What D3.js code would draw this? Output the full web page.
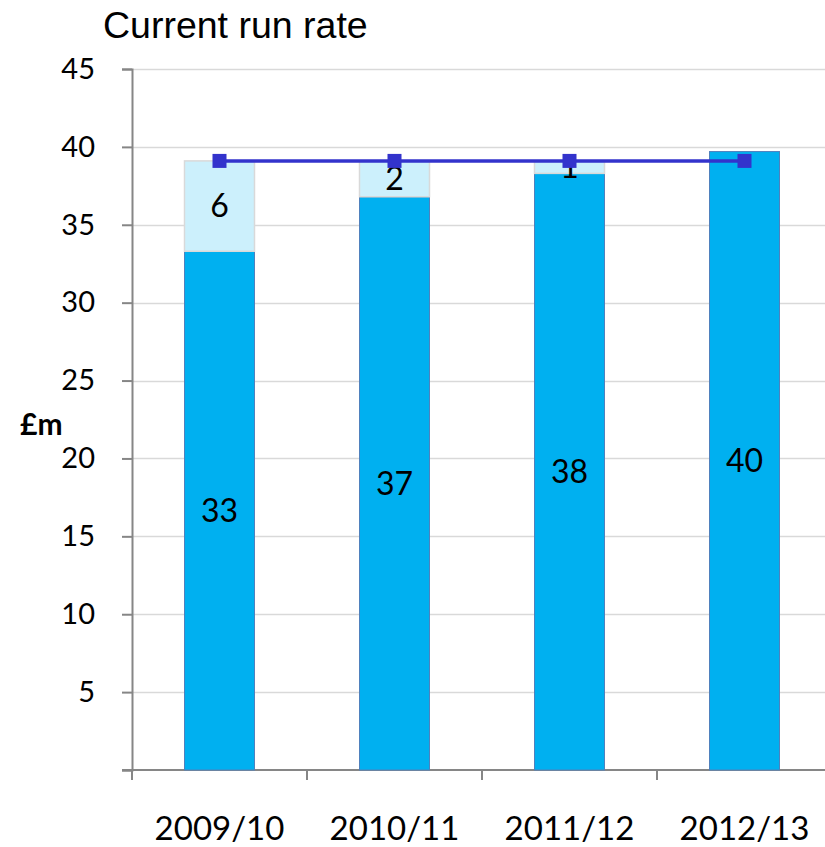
<!DOCTYPE html>
<html>
<head>
<meta charset="utf-8">
<script src="https://cdn.jsdelivr.net/npm/d3@7"></script>
<style>
  body { margin: 0; background: #fff; }
  svg { display: block; }
</style>
</head>
<body>
<div id="chart"></div>
<script>
const years = ["2009/10", "2010/11", "2011/12", "2012/13"];
const actual = [33.3, 36.8, 38.3, 39.7];
const gap = [5.8, 2.3, 0.8, 0];
const actualLabels = ["33", "37", "38", "40"];
const gapLabels = ["6", "2", "1", ""];
const runRate = [39.1, 39.1, 39.1, 39.1];
const yTicks = [5, 10, 15, 20, 25, 30, 35, 40, 45];

const width = 825, height = 847;
const labelFont = "Lato, 'Open Sans', sans-serif";
const titleFont = "'Liberation Sans', Arial, sans-serif";

const svg = d3.select("#chart").append("svg")
    .attr("width", width)
    .attr("height", height);

const x = d3.scaleBand().domain(years).range([132, 832]).paddingInner(0.6).paddingOuter(0.3);
const xTicks = d3.scaleBand().domain(years).range([132, 832]);
const y = d3.scaleLinear().domain([0, 45]).range([770, 69]);

// gridlines
svg.append("g")
    .selectAll("line")
    .data(yTicks)
    .join("line")
    .attr("x1", 132)
    .attr("x2", 832)
    .attr("y1", (d) => Math.round(y(d)) + 0.5)
    .attr("y2", (d) => Math.round(y(d)) + 0.5)
    .attr("stroke", "#d9d9d9")
    .attr("stroke-width", 1.5);

// y axis
const yAxis = svg.append("g").attr("transform", "translate(132,0)")
    .call(d3.axisLeft(y).tickValues([0].concat(yTicks)).tickSize(10).tickPadding(27)
        .tickFormat((d) => d === 0 ? "" : d));
yAxis.select(".domain").attr("stroke", "#868686").attr("stroke-width", 2);
yAxis.selectAll(".tick line").attr("stroke", "#868686").attr("stroke-width", 2);
yAxis.selectAll(".tick text")
    .attr("fill", "#000")
    .style("font-family", labelFont)
    .style("font-size", "29px");

// x axis
const xAxis = svg.append("g").attr("transform", "translate(0,770)");
xAxis.append("line")
    .attr("x1", 122).attr("x2", 832)
    .attr("stroke", "#868686").attr("stroke-width", 2);
xAxis.selectAll("line.tick")
    .data(years)
    .join("line")
    .attr("class", "tick")
    .attr("x1", (d) => xTicks(d))
    .attr("x2", (d) => xTicks(d))
    .attr("y1", 0)
    .attr("y2", 10)
    .attr("stroke", "#868686").attr("stroke-width", 2);
xAxis.selectAll("text")
    .data(years)
    .join("text")
    .attr("x", (d) => xTicks(d) + xTicks.bandwidth() / 2)
    .attr("y", 70)
    .attr("text-anchor", "middle")
    .style("font-family", labelFont)
    .style("font-size", "33px")
    .text((d) => d);

// dark bars
svg.append("g")
    .selectAll("rect")
    .data(years)
    .join("rect")
    .attr("x", (d) => x(d))
    .attr("width", x.bandwidth())
    .attr("y", (d, i) => y(actual[i]))
    .attr("height", (d, i) => y(0) - y(actual[i]))
    .attr("fill", "#00b0f0")
    .attr("stroke", "#4f81bd")
    .attr("stroke-width", 1);

// gap bars
svg.append("g")
    .selectAll("rect")
    .data(years.filter((d, i) => gap[i] > 0))
    .join("rect")
    .attr("x", (d) => x(d))
    .attr("width", x.bandwidth())
    .attr("y", (d) => { const i = years.indexOf(d); return y(actual[i] + gap[i]); })
    .attr("height", (d) => { const i = years.indexOf(d); return y(actual[i]) - y(actual[i] + gap[i]); })
    .attr("fill", "#ccf0fc")
    .attr("stroke", "#d9d9d9")
    .attr("stroke-width", 1.5);

// data labels
svg.append("g")
    .selectAll("text")
    .data(years)
    .join("text")
    .attr("x", (d) => x(d) + x.bandwidth() / 2)
    .attr("y", (d, i) => y(actual[i] / 2))
    .attr("dy", "0.35em")
    .attr("text-anchor", "middle")
    .style("font-family", labelFont)
    .style("font-size", "32px")
    .text((d, i) => actualLabels[i]);
svg.append("g")
    .selectAll("text")
    .data(years)
    .join("text")
    .attr("x", (d) => x(d) + x.bandwidth() / 2)
    .attr("y", (d, i) => y(actual[i] + gap[i] / 2))
    .attr("dy", "0.35em")
    .attr("text-anchor", "middle")
    .style("font-family", labelFont)
    .style("font-size", "32px")
    .text((d, i) => gapLabels[i]);

// run rate line
const line = d3.line()
    .x((d, i) => x(years[i]) + x.bandwidth() / 2)
    .y((d) => y(d));
svg.append("path")
    .datum(runRate)
    .attr("d", line)
    .attr("fill", "none")
    .attr("stroke", "#3333cc")
    .attr("stroke-width", 3.5);
svg.append("g")
    .selectAll("rect")
    .data(runRate)
    .join("rect")
    .attr("x", (d, i) => x(years[i]) + x.bandwidth() / 2 - 7)
    .attr("y", (d) => y(d) - 7)
    .attr("width", 14)
    .attr("height", 14)
    .attr("fill", "#3333cc");

// titles
svg.append("text")
    .attr("x", 103)
    .attr("y", 38)
    .style("font-family", titleFont)
    .style("font-size", "37.5px")
    .text("Current run rate");
svg.append("text")
    .attr("x", 20)
    .attr("y", 435)
    .style("font-family", labelFont)
    .style("font-weight", "bold")
    .style("font-size", "30px")
    .text("£m");
</script>
</body>
</html>
